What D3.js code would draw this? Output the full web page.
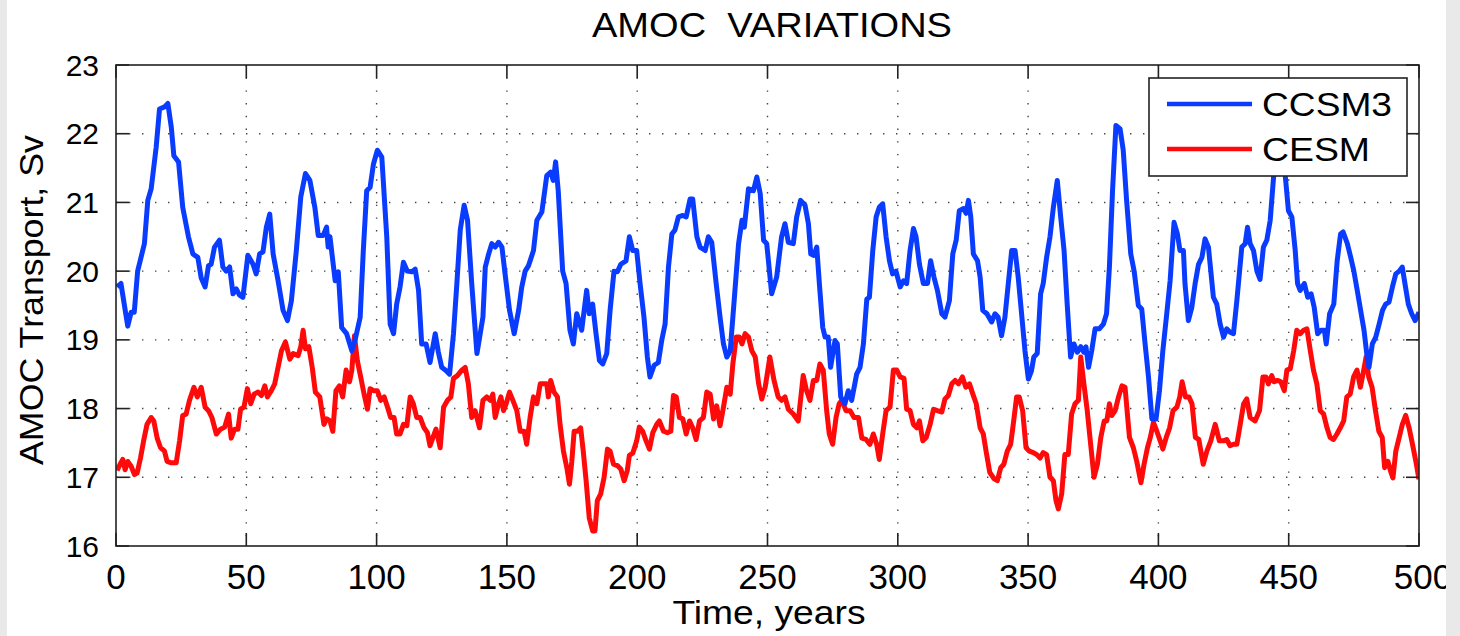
<!DOCTYPE html>
<html><head><meta charset="utf-8">
<script src="https://cdn.jsdelivr.net/npm/d3@7"></script>
<style>
html,body{margin:0;padding:0;background:#fff;}
svg{display:block;font-family:"Liberation Sans",Arial,Helvetica,sans-serif;}
</style></head>
<body>
<svg id="chart" width="1460" height="636"></svg>
<script>
const title = "AMOC  VARIATIONS";
const xLabel = "Time, years";
const yLabel = "AMOC Transport, Sv";
const seriesNames = ["CCSM3", "CESM"];
const xTicks = [0, 50, 100, 150, 200, 250, 300, 350, 400, 450, 500];
const yTicks = [16, 17, 18, 19, 20, 21, 22, 23];

const ccsm3Years = [0.4,1.9,4.5,5.8,7,8.3,10.9,12.2,13.5,15.4,16.7,18.6,19.9,21.2,22.2,24,25.6,27.8,29.5,31.4,32.7,34.2,35.5,36.5,37.8,39.7,41,42.3,43.6,44.9,46.2,47.4,48.7,50.6,52.6,53.8,55.1,56.4,57.7,59,60.3,62.2,64.1,65.8,67.3,69.2,70.9,72.7,74.4,76.3,77.6,79.5,80.8,81.4,82.1,84.1,85.3,86.6,88.5,90.5,91.7,93.7,94.9,96.2,97.5,98.8,100.3,102,103.9,105.2,106.5,107.7,109,110.3,111.8,113.5,114.8,116.1,117.3,119,120.5,122.5,123.7,125,126.7,128,129.5,130.8,132.1,133.6,134.9,136.5,138.5,140.8,141.7,143,144.2,145.5,146.8,148.1,149.3,151,152.8,154.5,155.7,157,158.3,160.2,161.5,163.4,165.3,166.8,167.8,168.7,169.7,171.4,172.7,174.2,175.5,176.8,178.7,180.6,181.6,182.9,184.2,185.5,186.8,188.3,189.6,191.1,192.4,193.7,195.7,197,198.3,199.8,201.1,202.6,203.9,204.9,206.5,208.1,209.4,210.7,212,213.3,214.5,215.8,217.5,218.8,220.3,221.3,222.9,224.1,226.1,227.3,228.6,230.3,231.8,233.1,234.4,235.7,237.2,238.9,240.2,241.1,242.7,244.6,245.9,247.2,248.5,249.7,251.6,253.5,255.4,256.7,258,259.9,261.2,262.7,264.4,265.7,266.6,267.8,268.9,269.9,271.2,272.1,273.3,274.2,275.9,276.8,278.1,279.7,281,282.3,284.2,285.5,286.8,288.1,289.1,290.4,291.7,292.9,294.2,295.5,296.8,298,299.3,300.9,302.2,303.4,304.7,306,307,308.3,309.8,311.4,312.6,313.9,315.2,316.9,318.1,319.8,321.1,322.4,323.6,325.2,326.2,327.1,328,329,330.6,331.6,332.6,334.2,336,337.3,338.5,339.8,341.1,342.4,343.7,345,346.2,347.5,348.8,350.1,351.3,352.2,353.5,354.8,355.8,357.1,358.4,359.7,361.2,362.5,363.8,365,366.3,367.6,368.9,370.2,371.4,372.2,373.2,374.4,375.7,377.3,378.9,380.1,381.2,382.4,383.7,385.3,386.5,387.8,389.4,390.7,392.3,393.6,394.9,396.2,397.5,399.1,400.4,401.7,403.2,404.5,406,407.3,408.3,409.6,410.2,411.5,412.8,414.1,415.4,416.7,417.9,419.2,421.1,422.4,423.7,425,426.2,427.5,428.8,430.1,432,433.3,434.2,435.2,436.5,437.8,439,440.3,441.6,442.9,444.2,445.2,446.7,448.6,449.9,451.2,452.5,453.4,454.4,456,457.3,458.6,459.8,461.1,462.4,463.7,464.4,465.7,467.3,468.6,469.9,470.9,472.5,473.8,475,476.3,477.6,478.9,480.1,480.8,482.1,483.4,484.7,486,487.2,488.5,489.8,491.1,492.4,493.6,494.6,495.9,497.2,498.5,500];
const ccsm3Sv = [19.77,19.82,19.2,19.4,19.4,20.0,20.4,21.03,21.2,21.8,22.36,22.39,22.44,22.1,21.68,21.59,20.93,20.5,20.25,20.2,19.9,19.77,20.08,20.1,20.35,20.45,20.06,20.0,20.06,19.67,19.74,19.65,19.62,20.23,20.1,19.96,20.25,20.28,20.64,20.83,20.25,19.86,19.43,19.28,19.57,20.3,21.08,21.42,21.32,20.93,20.52,20.52,20.64,20.35,20.5,19.86,19.99,19.18,19.09,18.84,18.99,19.33,20.3,21.17,21.22,21.56,21.76,21.66,20.5,19.23,19.09,19.52,19.77,20.13,20.0,19.99,20.03,19.72,18.94,18.94,18.67,19.09,18.82,18.6,18.55,18.5,19.09,19.82,20.6,20.96,20.74,19.82,18.8,19.33,20.06,20.25,20.4,20.35,20.42,20.35,19.96,19.43,19.09,19.43,19.77,20.0,20.08,20.3,20.74,20.86,21.39,21.44,21.32,21.59,21.17,20.0,19.82,19.14,18.94,19.38,19.14,19.72,19.38,19.52,19.09,18.7,18.65,18.8,19.43,20.0,19.99,20.1,20.15,20.5,20.3,20.3,19.82,19.33,18.75,18.46,18.63,18.67,18.99,19.23,20.06,20.54,20.6,20.79,20.81,20.79,21.05,21.05,20.5,20.35,20.3,20.5,20.42,19.82,19.33,18.94,18.75,18.84,19.57,20.4,20.74,20.64,21.2,21.17,21.37,21.13,20.45,20.4,19.67,19.91,20.5,20.69,20.42,20.4,20.79,21.03,20.96,20.69,20.25,20.23,20.35,19.82,19.18,19.04,19.04,18.6,18.99,18.94,18.17,18.07,18.26,18.12,18.5,18.6,18.94,19.59,19.62,20.3,20.79,20.93,20.98,20.5,20.15,19.96,20.0,19.77,19.86,19.82,20.3,20.62,20.5,20.1,19.82,19.82,20.15,19.91,19.72,19.38,19.33,19.57,20.25,20.45,20.88,20.91,20.84,21.03,20.79,20.25,20.15,19.91,19.43,19.38,19.26,19.38,19.33,19.06,19.33,19.82,20.3,20.3,19.91,19.38,18.84,18.43,18.55,18.75,18.8,19.67,19.82,20.2,20.5,20.93,21.32,20.79,20.3,19.52,18.75,18.94,18.82,18.9,18.82,18.9,18.6,18.84,19.16,19.16,19.23,19.38,20.06,21.17,22.12,22.07,21.76,21.03,20.25,20.0,19.5,19.45,18.94,18.46,17.85,17.85,18.26,18.84,19.38,19.86,20.71,20.54,20.3,20.3,19.82,19.28,19.47,19.82,20.1,20.2,20.47,20.35,19.62,19.52,19.23,19.04,19.16,19.11,19.09,19.57,20.35,20.4,20.64,20.4,20.3,20.0,19.88,20.35,20.45,20.74,21.37,21.7,21.8,21.42,20.88,20.79,20.3,19.82,19.72,19.82,19.62,19.67,19.47,19.09,19.14,19.14,18.94,19.38,19.52,20.15,20.54,20.57,20.4,20.2,20.0,19.72,19.43,19.14,18.75,18.6,18.94,19.04,19.23,19.43,19.52,19.55,19.77,19.96,20.0,20.06,19.82,19.52,19.38,19.28,19.4];

const cesmYears = [0.4,1.7,2.6,3.5,4.5,5.8,7.1,8.1,9.4,10.6,11.9,13.5,14.5,15.8,17.1,18.6,19.6,21.2,23.1,24.4,25.6,26.9,28.2,29.9,31.2,32.7,34.2,35.5,36.8,38.5,40.1,41.7,43.2,44.2,45.5,46.8,47.8,49.1,50.4,51.7,53,54.5,55.8,57.1,58.1,59.6,60.9,62.2,63.5,65,66.7,68,69.9,70.9,71.8,72.7,74,75.3,76.5,78.2,79.8,80.9,82.1,83.2,84.4,85.7,87,88.3,89.6,90.5,91.5,92.6,93.9,95.2,96.5,97.5,98.8,100.3,101.6,102.9,104.2,105.4,106.7,107.7,109,110.3,111.6,112.9,114.1,115.4,116.7,118.2,119.5,120.5,121.8,122.8,124.4,125.7,127.2,128.5,129.5,131,132.7,134,135.2,136.5,137.8,139.5,140.8,142.3,143.6,144.6,145.5,146.8,147.7,148.7,149.7,151,152.3,153.8,155.1,156.6,157.6,158.9,160.2,161.5,162.8,163.7,165.3,165.9,166.8,168.1,169.4,170.4,171.7,173,174,174.9,175.8,177.1,178.3,179.3,180.4,181.6,182.9,183.8,184.7,186,187.3,188.6,189.6,190.9,192.4,193.7,195,196.2,197,198.3,199.8,200.8,202.1,203.4,204.7,206,207.5,208.5,210.1,211.6,212.9,213.9,215,216.2,217.5,218.8,220.1,221.3,222.6,223.9,225.4,226.7,228,229.3,230.5,231.8,233.1,234.4,235.7,236.7,238,239.2,240.2,241.4,242.7,244,245.3,246.6,247.8,249.1,250.9,252.5,254.1,255.4,256.7,258,259.9,261.8,263.7,265,266.3,267.6,268.9,270.1,271.4,272.7,273.7,275,276.3,277.5,278.5,280.1,281.7,283.2,284.9,286.2,287.8,289.3,290.6,291.9,292.9,294.2,295.5,297,298.3,299.6,300.9,302.4,303.4,304.7,306,307.3,308.3,309.6,310.9,312.4,313.7,315.2,316.9,318.1,319.4,320.7,322,323.3,324.8,326.1,327.5,328.8,330.1,331.6,332.8,334.1,335.3,336.9,338.2,339.5,340.7,342,343.3,344.3,345.6,346.6,347.9,349.2,350.5,352,353.3,354.6,355.8,357.1,358.4,359.7,360.7,361.6,362.9,364.1,365.4,366.7,368,369.3,370.2,371.4,372.7,374,375.3,376.6,377.9,379.2,380.2,381.2,382.1,383.4,384.7,386,387.2,388.9,390.4,391.7,393.3,394.5,395.8,396.9,398.1,399.4,400.7,401.7,403,404.3,405.6,407.1,408.2,409.1,410.4,411.7,412.9,414.2,415.5,417.2,418.6,420.1,421.8,423.4,425,426.2,427.5,428.8,430.1,431.4,432.7,433.9,435.2,437.1,438.8,440.1,441.3,442.2,443.5,444.4,445.7,447,448.3,449.3,450.6,451.9,453.1,454.4,455.7,457,458.3,459.5,460.8,462.1,463.4,464.7,465.9,467.2,468.5,469.8,471.1,472.3,473.6,474.9,476.2,477.5,478.8,479.7,480.7,482,483.3,484.6,485.9,486.8,488.1,489.1,490,491.1,492.4,493.6,494.9,496.2,497.5,498.8,500];
const cesmSv = [17.1,17.2,17.26,17.11,17.23,17.16,17.04,17.06,17.28,17.53,17.77,17.87,17.82,17.57,17.43,17.38,17.23,17.21,17.21,17.53,17.9,17.92,18.12,18.31,18.17,18.31,18.02,17.97,17.87,17.63,17.7,17.73,17.92,17.57,17.7,17.7,17.99,18.02,18.29,18.07,18.21,18.24,18.19,18.33,18.17,18.26,18.36,18.6,18.84,18.97,18.72,18.8,18.77,18.9,19.14,18.87,18.9,18.6,18.24,18.17,17.77,17.85,17.82,17.67,18.26,18.33,18.17,18.56,18.39,18.56,19.06,18.7,18.46,18.21,17.99,18.29,18.26,18.26,18.12,18.17,18.02,17.87,17.87,17.63,17.63,17.77,17.75,18.17,18.07,17.87,17.87,17.72,17.65,17.46,17.6,17.7,17.43,18.02,18.12,18.17,18.44,18.48,18.56,18.6,18.36,17.87,17.97,17.72,18.12,18.17,18.12,18.21,17.87,18.07,18.17,17.97,18.07,18.24,18.12,17.97,17.67,17.67,17.48,17.87,18.17,18.07,18.36,18.36,18.36,18.17,18.41,18.24,18.17,17.77,17.38,17.14,16.9,17.23,17.67,17.67,17.72,17.38,16.95,16.41,16.22,16.22,16.66,16.76,17.0,17.41,17.38,17.19,17.17,17.12,16.95,17.1,17.32,17.35,17.53,17.73,17.67,17.53,17.41,17.65,17.77,17.82,17.67,17.65,17.67,18.19,18.17,17.87,17.85,17.63,17.82,17.72,17.55,17.82,17.87,18.24,18.21,17.85,18.04,17.75,18.02,18.31,18.21,18.65,19.04,19.04,18.94,19.09,19.04,18.84,18.75,18.36,18.14,18.31,18.75,18.41,18.17,18.12,18.17,17.99,17.92,17.82,18.48,18.26,18.12,18.41,18.41,18.65,18.56,17.97,17.63,17.48,17.87,18.07,18.12,17.97,17.97,17.87,17.87,17.57,17.55,17.48,17.63,17.48,17.26,17.63,17.97,18.02,18.56,18.56,18.46,18.44,17.99,17.97,17.77,17.72,17.82,17.53,17.58,17.77,17.99,17.97,17.95,18.14,18.19,18.36,18.41,18.36,18.46,18.31,18.36,18.21,18.07,17.72,17.63,17.33,17.07,16.98,16.95,17.14,17.19,17.38,17.48,17.77,18.17,18.17,17.97,17.43,17.38,17.36,17.33,17.28,17.36,17.33,17.0,16.95,16.66,16.54,16.76,17.33,17.33,17.92,18.07,18.12,18.75,18.36,17.97,17.48,17.0,17.19,17.58,17.82,17.82,18.07,17.9,17.97,18.17,18.33,18.31,17.58,17.43,17.23,16.92,17.19,17.43,17.58,17.8,17.67,17.53,17.41,17.58,17.72,17.97,18.02,18.17,18.39,18.17,18.17,18.07,17.58,17.55,17.19,17.38,17.53,17.77,17.53,17.53,17.55,17.46,17.48,17.48,17.77,18.07,18.14,17.87,17.82,17.97,18.46,18.46,18.36,18.48,18.39,18.41,18.39,18.26,18.56,18.58,18.84,19.14,19.09,19.14,19.16,18.84,18.56,18.36,17.97,17.92,17.72,17.58,17.55,17.63,17.72,17.82,18.17,18.21,18.46,18.56,18.31,18.56,18.75,18.46,18.31,17.97,17.67,17.58,17.14,17.23,17.09,16.99,17.38,17.58,17.77,17.9,17.72,17.48,17.23,16.97];

const svg = d3.select("#chart");
const W = 1460, H = 636;
const mLeft = 116, mRight = 1419, mTop = 65, mBottom = 546;
const x = d3.scaleLinear().domain([0, 500]).range([mLeft, mRight]);
const y = d3.scaleLinear().domain([16, 23]).range([mBottom, mTop]);

svg.append("rect").attr("width", W).attr("height", H).attr("fill", "#ffffff");

// grid
const grid = svg.append("g");
grid.selectAll("line.vg").data(xTicks.slice(1, -1)).join("line")
  .attr("x1", d => x(d)).attr("x2", d => x(d)).attr("y1", mTop).attr("y2", mBottom)
  .attr("stroke", "#444").attr("stroke-width", 1.4).attr("stroke-dasharray", "1.4,11.3");
grid.selectAll("line.hg").data(yTicks.slice(1, -1)).join("line")
  .attr("x1", mLeft).attr("x2", mRight).attr("y1", d => y(d)).attr("y2", d => y(d))
  .attr("stroke", "#444").attr("stroke-width", 1.4).attr("stroke-dasharray", "1.4,11.6");

// lines
svg.append("clipPath").attr("id", "clip").append("rect")
  .attr("x", mLeft).attr("y", mTop).attr("width", mRight - mLeft).attr("height", mBottom - mTop);
const line = d3.line().x(d => x(d[0])).y(d => y(d[1])).curve(d3.curveLinear);
const blueData = ccsm3Years.map((t, i) => [t, ccsm3Sv[i]]);
const redData = cesmYears.map((t, i) => [t, cesmSv[i]]);
const colors = ["#0a3cff", "#ff0a0a"];
const lg = svg.append("g").attr("clip-path", "url(#clip)");
lg.append("path").datum(redData).attr("d", line).attr("fill", "none")
  .attr("stroke", colors[1]).attr("stroke-width", 5).attr("stroke-linejoin", "round");
lg.append("path").datum(blueData).attr("d", line).attr("fill", "none")
  .attr("stroke", colors[0]).attr("stroke-width", 5).attr("stroke-linejoin", "round");

// axes with inward ticks
const axCol = "#222";
const tickLen = 13;
const axG = svg.append("g");
axG.append("rect").attr("x", mLeft).attr("y", mTop).attr("width", mRight - mLeft).attr("height", mBottom - mTop)
  .attr("fill", "none").attr("stroke", axCol).attr("stroke-width", 1.6);
xTicks.forEach(t => {
  axG.append("line").attr("x1", x(t)).attr("x2", x(t)).attr("y1", mBottom).attr("y2", mBottom - tickLen).attr("stroke", axCol).attr("stroke-width", 1.6);
  axG.append("line").attr("x1", x(t)).attr("x2", x(t)).attr("y1", mTop).attr("y2", mTop + tickLen).attr("stroke", axCol).attr("stroke-width", 1.6);
});
yTicks.forEach(t => {
  axG.append("line").attr("x1", mLeft).attr("x2", mLeft + tickLen).attr("y1", y(t)).attr("y2", y(t)).attr("stroke", axCol).attr("stroke-width", 1.6);
  axG.append("line").attr("x1", mRight).attr("x2", mRight - tickLen).attr("y1", y(t)).attr("y2", y(t)).attr("stroke", axCol).attr("stroke-width", 1.6);
});

// tick labels
svg.append("g").selectAll("text").data(xTicks).join("text")
  .attr("x", d => x(d) + (d === 500 ? 4 : 0)).attr("y", 589).attr("text-anchor", "middle")
  .attr("font-size", 35).attr("fill", "#000").text(d => d);
svg.append("g").selectAll("text").data(yTicks).join("text")
  .attr("x", 99).attr("y", d => y(d) + 10.5).attr("text-anchor", "end")
  .attr("font-size", 30).attr("fill", "#000").text(d => d);

// titles
svg.append("text").attr("x", 772).attr("y", 37).attr("text-anchor", "middle")
  .attr("font-size", 35).attr("textLength", 360).attr("lengthAdjust", "spacingAndGlyphs")
  .attr("fill", "#000").style("white-space", "pre").text(title);
svg.append("text").attr("x", 769).attr("y", 624).attr("text-anchor", "middle")
  .attr("font-size", 34).attr("textLength", 193).attr("lengthAdjust", "spacingAndGlyphs")
  .attr("fill", "#000").text(xLabel);
svg.append("text").attr("transform", "translate(43,300) rotate(-90)").attr("text-anchor", "middle")
  .attr("font-size", 34).attr("textLength", 330).attr("lengthAdjust", "spacingAndGlyphs")
  .attr("fill", "#000").text(yLabel);

// legend
const leg = svg.append("g");
leg.append("rect").attr("x", 1149).attr("y", 78).attr("width", 258).attr("height", 98)
  .attr("fill", "#fff").attr("stroke", axCol).attr("stroke-width", 1.6);
const legY = [104, 149];
const legLen = [130, 108];
seriesNames.forEach((n, i) => {
  leg.append("line").attr("x1", 1167).attr("x2", 1252).attr("y1", legY[i]).attr("y2", legY[i])
    .attr("stroke", colors[i]).attr("stroke-width", 4.6);
  leg.append("text").attr("x", 1262).attr("y", legY[i] + 12).attr("font-size", 33)
    .attr("textLength", legLen[i]).attr("lengthAdjust", "spacingAndGlyphs").attr("fill", "#000").text(n);
});

// textured side strips of the scanned page
svg.append("rect").attr("x", 0).attr("y", 0).attr("width", 7).attr("height", H).attr("fill", "#e9e9e9");
svg.append("rect").attr("x", 1446).attr("y", 0).attr("width", 14).attr("height", H).attr("fill", "#e9e9e9");
</script>
</body></html>
